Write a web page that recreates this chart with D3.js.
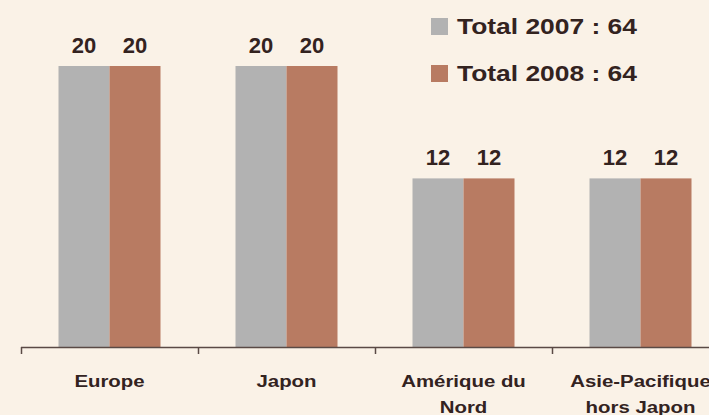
<!DOCTYPE html>
<html>
<head>
<meta charset="utf-8">
<script src="https://cdn.jsdelivr.net/npm/d3@7"></script>
<style>
  body { margin: 0; background: #FAF2E7; }
  svg { display: block; }
  text { font-family: "Liberation Sans", Arial, sans-serif; font-weight: bold; fill: #33231F; }
</style>
</head>
<body>
<script>
var width = 709;
var height = 415;

// data
var categories = ['Europe', 'Japon', 'Amérique du Nord', 'Asie-Pacifique hors Japon'];
var categoryLines = [['Europe'], ['Japon'], ['Amérique du', 'Nord'], ['Asie-Pacifique', 'hors Japon']];
var series = ['2007', '2008'];
var values2007 = [20, 20, 12, 12];
var values2008 = [20, 20, 12, 12];
var legendLabels = ['Total 2007 : 64', 'Total 2008 : 64'];

var colors = d3.scaleOrdinal().domain(series).range(['#B2B2B2', '#B87B62']);

var svg = d3.select('body')
  .append('svg')
  .attr('width', width)
  .attr('height', height);

svg.append('rect')
  .attr('width', width)
  .attr('height', height)
  .attr('fill', '#FAF2E7');

// scales
var x = d3.scaleBand()
  .domain(categories)
  .range([21, 729])
  .padding(0);

var groupWidth = 102;
var xSub = d3.scaleBand()
  .domain(series)
  .range([(x.bandwidth() - groupWidth) / 2, (x.bandwidth() + groupWidth) / 2])
  .padding(0);

var y = d3.scaleLinear()
  .domain([0, 20])
  .range([347, 66]);

var rows = categories.map(function(c, i) {
  return { cat: c, lines: categoryLines[i], vals: [values2007[i], values2008[i]] };
});

var groups = svg.selectAll('g.group')
  .data(rows)
  .enter()
  .append('g')
    .attr('class', 'group')
    .attr('transform', function(d) { return 'translate(' + x(d.cat) + ',0)'; });

var bars = groups.selectAll('g.bar')
  .data(function(d) {
    return series.map(function(s, j) { return { s: s, v: d.vals[j] }; });
  })
  .enter()
  .append('g')
    .attr('class', 'bar');

bars.append('rect')
  .attr('x', function(d) { return xSub(d.s); })
  .attr('y', function(d) { return y(d.v); })
  .attr('width', xSub.bandwidth())
  .attr('height', function(d) { return y(0) - y(d.v); })
  .attr('fill', function(d) { return colors(d.s); });

// value labels
bars.append('text')
  .attr('x', function(d) { return xSub(d.s) + xSub.bandwidth() / 2; })
  .attr('y', function(d) { return y(d.v) - 13; })
  .attr('text-anchor', 'middle')
  .style('font-size', '22px')
  .text(function(d) { return d.v; });

// axis line + ticks at band boundaries
var axisColor = '#5A4A45';
svg.append('line')
  .attr('x1', x.range()[0])
  .attr('x2', x.range()[1])
  .attr('y1', y(0) + 0.5)
  .attr('y2', y(0) + 0.5)
  .attr('stroke', axisColor)
  .attr('stroke-width', 1.5);

var boundaries = categories.map(function(c) { return x(c); }).concat([x.range()[1]]);
svg.selectAll('line.tick')
  .data(boundaries)
  .enter()
  .append('line')
    .attr('class', 'tick')
    .attr('x1', function(d) { return d + 0.5; })
    .attr('x2', function(d) { return d + 0.5; })
    .attr('y1', y(0))
    .attr('y2', y(0) + 7)
    .attr('stroke', axisColor)
    .attr('stroke-width', 1.5);

// category labels
groups.each(function(d) {
  var g = d3.select(this);
  d.lines.forEach(function(line, k) {
    g.append('text')
      .attr('transform', 'translate(' + (x.bandwidth() / 2) + ',' + (387 + k * 26) + ') scale(1.2,1)')
      .attr('text-anchor', 'middle')
      .style('font-size', '17px')
      .text(line);
  });
});

// legend
var legend = svg.append('g')
  .selectAll('g')
  .data(series)
  .enter()
  .append('g')
    .attr('class', 'legend')
    .attr('transform', function(d, i) { return 'translate(431,' + (18 + i * 47) + ')'; });

legend.append('rect')
  .attr('width', 17)
  .attr('height', 17)
  .attr('fill', function(d) { return colors(d); });

legend.append('text')
  .attr('transform', 'translate(26,16) scale(1.2,1)')
  .style('font-size', '22px')
  .text(function(d, i) { return legendLabels[i]; });
</script>
</body>
</html>
